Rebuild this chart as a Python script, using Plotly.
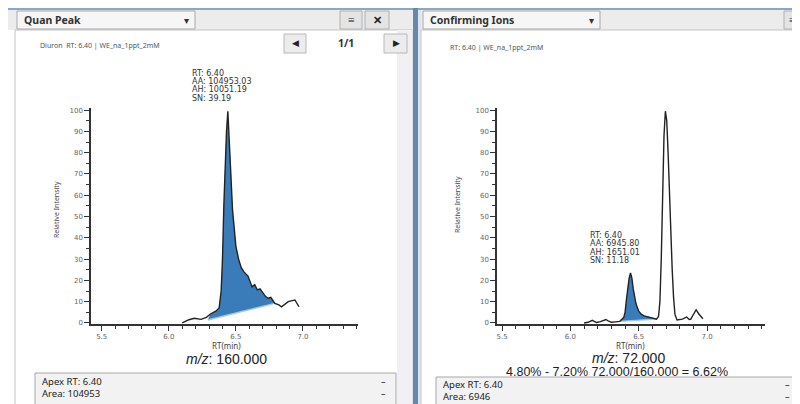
import plotly.graph_objects as go
import numpy as np

# The page body has an 8px margin, so the figure is 792x396 and window
# coordinates are shifted by that offset.
OX, OY = 8, 8
W, H = 792, 396


def px(x):
    return (x - OX) / W


def py(y):
    return 1 - (y - OY) / H


# ---------------- data ----------------
# Quan peak, m/z 160.000
left_rt = [6.10, 6.15, 6.19, 6.24, 6.28, 6.31, 6.35, 6.375, 6.39, 6.40, 6.41, 6.42, 6.43, 6.44,
           6.45, 6.46, 6.475, 6.50, 6.52, 6.54, 6.56, 6.59, 6.61, 6.62, 6.64, 6.66, 6.68, 6.70,
           6.72, 6.74, 6.76, 6.79, 6.82, 6.84, 6.87, 6.89, 6.92, 6.94, 6.97]
left_int = [0.0, 1.5, 2.2, 1.7, 2.6, 4.2, 5.5, 7.0, 15.0, 30.0, 55.0, 75.0, 90.0, 99.5,
            85.0, 76.0, 53.0, 36.0, 30.0, 26.0, 24.0, 22.0, 18.0, 17.0, 18.0, 15.5, 16.0, 14.0,
            12.5, 11.6, 12.0, 9.2, 8.5, 7.6, 9.0, 10.0, 10.5, 10.8, 7.6]
left_base_rt = [6.29, 6.79]
left_base_int = [1.4, 9.2]

# Confirming ion, m/z 72.000
right_rt = [6.10, 6.13, 6.16, 6.19, 6.22, 6.24, 6.26, 6.28, 6.30, 6.33, 6.36, 6.39, 6.40, 6.41,
            6.42, 6.43, 6.44, 6.45, 6.46, 6.47, 6.48, 6.50, 6.52, 6.54, 6.57, 6.60, 6.63, 6.645,
            6.655, 6.665, 6.675, 6.685, 6.695, 6.705, 6.715, 6.725, 6.735, 6.745, 6.755, 6.765,
            6.78, 6.80, 6.82, 6.85, 6.87, 6.88, 6.90, 6.92, 6.94, 6.97]
right_int = [0.0, 0.3, 1.2, 0.2, 0.6, 1.3, 1.6, 0.8, 0.3, 0.5, 0.7, 2.5, 5.0, 11.0,
             17.0, 21.0, 23.5, 21.0, 16.0, 12.0, 9.0, 5.5, 4.0, 3.3, 2.9, 2.5, 1.8, 3.0,
             10.0, 30.0, 65.0, 88.0, 99.5, 95.0, 80.0, 60.0, 40.0, 25.0, 12.0, 4.0,
             1.4, 1.5, 1.8, 2.8, 1.6, 1.7, 3.8, 6.2, 4.2, 2.0]
right_base_rt = [6.36, 6.63]
right_base_int = [0.7, 1.8]

x_ticks = [5.5, 6.0, 6.5, 7.0]
x_tick_text = ["5.5", "6.0", "6.5", "7.0"]
y_ticks = [0, 10, 20, 30, 40, 50, 60, 70, 80, 90, 100]

left_labels = ["RT: 6.40", "AA: 104953.03", "AH: 10051.19", "SN: 39.19"]
right_labels = ["RT: 6.40", "AA: 6945.80", "AH: 1651.01", "SN: 11.18"]

FILL = "rgb(58,124,186)"
BASE = "rgb(160,200,232)"
LINE = "#222222"
UI_FONT = "Noto Sans"


def fill_poly(rt, inten, brt, bint):
    rt = np.asarray(rt)
    inten = np.asarray(inten)
    m = (rt >= brt[0]) & (rt <= brt[1])
    xs = [brt[0]] + list(rt[m]) + [brt[1], brt[0]]
    ys = [bint[0]] + list(inten[m]) + [bint[1], bint[0]]
    return xs, ys


fig = go.Figure()

# left panel traces
lx, ly = fill_poly(left_rt, left_int, left_base_rt, left_base_int)
fig.add_trace(go.Scatter(x=lx, y=ly, fill="toself", fillcolor=FILL, mode="none",
                         xaxis="x", yaxis="y", hoverinfo="skip"))
fig.add_trace(go.Scatter(x=left_base_rt, y=left_base_int, mode="lines",
                         line=dict(color=BASE, width=1.5), xaxis="x", yaxis="y"))
fig.add_trace(go.Scatter(x=left_rt, y=left_int, mode="lines",
                         line=dict(color=LINE, width=1.4), xaxis="x", yaxis="y"))

# right panel traces
rx, ry = fill_poly(right_rt, right_int, right_base_rt, right_base_int)
fig.add_trace(go.Scatter(x=rx, y=ry, fill="toself", fillcolor=FILL, mode="none",
                         xaxis="x2", yaxis="y2", hoverinfo="skip"))
fig.add_trace(go.Scatter(x=right_base_rt, y=right_base_int, mode="lines",
                         line=dict(color=BASE, width=1.2), xaxis="x2", yaxis="y2"))
fig.add_trace(go.Scatter(x=right_rt, y=right_int, mode="lines",
                         line=dict(color=LINE, width=1.4), xaxis="x2", yaxis="y2"))

tickfont = dict(family="DejaVu Sans", size=7, color="#666666")


def xax(domain, rng, anchor):
    return dict(domain=domain, range=rng, tickvals=x_ticks, ticktext=x_tick_text,
                ticks="outside", ticklen=5, tickwidth=1.2, tickcolor="#333333",
                showline=True, linecolor="#333333", linewidth=1.5,
                minor=dict(dtick=0.1, tick0=5.5, ticks="outside", ticklen=3,
                           tickcolor="#333333", tickwidth=1.2),
                tickfont=tickfont, showgrid=False, zeroline=False, fixedrange=True,
                automargin=False, anchor=anchor)


def yax(domain, anchor):
    return dict(domain=domain, range=[-0.5, 101], tickvals=y_ticks,
                ticks="outside", ticklen=5, tickwidth=1.2, tickcolor="#333333",
                showline=True, linecolor="#333333", linewidth=1.5,
                minor=dict(dtick=5, tick0=0, ticks="outside", ticklen=3,
                           tickcolor="#333333", tickwidth=1.2),
                tickfont=tickfont, showgrid=False, zeroline=False, fixedrange=True,
                automargin=False, anchor=anchor)


ydom = [py(324), py(108)]

shapes = []
ann = []


def rect(x0, y0, x1, y1, fill, line="rgba(0,0,0,0)", lw=1, layer="below"):
    shapes.append(dict(type="rect", xref="paper", yref="paper",
                       x0=px(x0), x1=px(x1), y0=py(y1), y1=py(y0),
                       fillcolor=fill, line=dict(color=line, width=lw), layer=layer))


def text(x, y, s, size=10, color="#222222", xanchor="left", family=UI_FONT, bold=False, angle=0):
    if bold:
        s = "<b>" + s + "</b>"
    ann.append(dict(xref="paper", yref="paper", x=px(x), y=py(y), text=s, showarrow=False,
                    xanchor=xanchor, yanchor="middle", textangle=angle,
                    font=dict(family=family, size=size, color=color)))


# ---- chrome ----
rect(0, 0, 800, 404, "#ffffff")
rect(8, 8, 800, 10, "#8aa6c8")
rect(8, 10, 800, 30, "#ececec")
# left panel body
rect(15, 30, 412, 405, "#ffffff", "#c4c4c4", 1)
rect(397, 30, 412, 405, "#f1f1f3")
# separator
rect(413, 8, 418, 405, "#6787ad")
rect(418, 10, 421, 405, "#dfe3ea")
# right panel body
rect(421, 30, 801, 405, "#ffffff", "#c4c4c4", 1)

# dropdowns
rect(17, 11, 195, 29, "#f6f6f6", "#a8a8a8", 1)
text(22, 20, "Quan Peak", size=10.5, color="#333333", bold=True)
text(186, 20, "▾", size=10, color="#333333", xanchor="center")
rect(423, 11, 600, 29, "#f6f6f6", "#a8a8a8", 1)
text(428, 20, "Confirming Ions", size=10.5, color="#333333", bold=True)
text(591, 20, "▾", size=10, color="#333333", xanchor="center")

# header buttons
rect(340, 11, 362, 29, "#e4e4e4", "#b0b0b0", 1)
text(351, 20, "≡", size=12, color="#222222", xanchor="center")
rect(365, 11, 389, 29, "#e4e4e4", "#b0b0b0", 1)
text(377, 20, "✕", size=11, color="#222222", xanchor="center", bold=True)
rect(784, 11, 806, 29, "#e4e4e4", "#b0b0b0", 1)
text(792, 20, "≡", size=12, color="#222222", xanchor="center")

# nav row
text(38, 45, "Diuron  RT: 6.40 | WE_na_1ppt_2mM", size=7, color="#555555")
rect(284, 34, 306, 53, "#ececec", "#b8b8b8", 1)
text(295, 43, "◀", size=9, color="#222222", xanchor="center")
text(346, 43, "1/1", size=10.5, color="#333333", xanchor="center", bold=True)
rect(384, 34, 407, 53, "#ececec", "#b8b8b8", 1)
text(396, 43, "▶", size=9, color="#222222", xanchor="center")
text(448, 48, "RT: 6.40 | WE_na_1ppt_2mM", size=7, color="#555555")

# peak labels
for i, s in enumerate(left_labels):
    text(190, 73 + i * 8.4, s, size=8, color="#333333", family="DejaVu Sans")
for i, s in enumerate(right_labels):
    text(588, 235 + i * 8.6, s, size=8, color="#333333", family="DejaVu Sans")

# axis titles
text(57, 210, "Relative Intensity", size=7, color="#444444", xanchor="center", angle=-90)
text(458, 205, "Relative Intensity", size=7, color="#444444", xanchor="center", angle=-90)
text(227, 345, "RT(min)", size=8, color="#444444", xanchor="center")
text(630, 345, "RT(min)", size=8, color="#444444", xanchor="center")
text(227, 359, "<i>m/z</i>: 160.000", size=14, color="#222222", xanchor="center", family="Liberation Sans")
text(628, 358, "<i>m/z</i>: 72.000", size=14, color="#222222", xanchor="center", family="Liberation Sans")
text(617, 372, "4.80% - 7.20% 72.000/160.000 = 6.62%", size=12.5, color="#222222",
     xanchor="center", family="Liberation Sans")

# info boxes
rect(35, 373, 396, 405, "#f2f2f2", "#a8a8a8", 1, layer="above")
text(40, 381, "Apex RT: 6.40", size=9.5, color="#222222")
text(40, 393, "Area: 104953", size=9.5, color="#222222")
text(383, 381, "–", size=9, color="#222222", xanchor="center")
text(383, 393, "–", size=9, color="#222222", xanchor="center")
rect(436, 377, 801, 405, "#f2f2f2", "#a8a8a8", 1, layer="above")
text(441, 384, "Apex RT: 6.40", size=9.5, color="#222222")
text(441, 396, "Area: 6946", size=9.5, color="#222222")
text(787, 384, "–", size=9, color="#222222", xanchor="center")
text(787, 396, "–", size=9, color="#222222", xanchor="center")

fig.update_layout(
    width=W, height=H, margin=dict(l=0, r=0, t=0, b=0, autoexpand=False),
    paper_bgcolor="#ffffff", plot_bgcolor="rgba(0,0,0,0)",
    showlegend=False,
    xaxis=xax([px(91), px(358)], [5.42, 7.41], "y"),
    yaxis=yax(ydom, "x"),
    xaxis2=xax([px(497), px(765)], [5.463, 7.424], "y2"),
    yaxis2=yax(ydom, "x2"),
    shapes=shapes, annotations=ann,
)

fig.write_html("out.html")
